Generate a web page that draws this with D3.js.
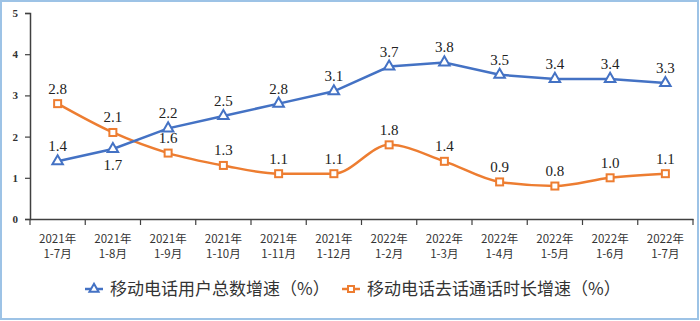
<!DOCTYPE html>
<html>
<head>
<meta charset="utf-8">
<script src="https://cdn.jsdelivr.net/npm/d3@7"></script>
<style>
  body { margin: 0; background: #fff; }
</style>
</head>
<body>
<div id="chart"></div>
<script>
// Data
const years = ['2021年', '2021年', '2021年', '2021年', '2021年', '2021年',
  '2022年', '2022年', '2022年', '2022年', '2022年', '2022年']
const months = ['1-7月', '1-8月', '1-9月', '1-10月', '1-11月', '1-12月',
  '1-2月', '1-3月', '1-4月', '1-5月', '1-6月', '1-7月']
const users = [1.4, 1.7, 2.2, 2.5, 2.8, 3.1, 3.7, 3.8, 3.5, 3.4, 3.4, 3.3]
const calls = [2.8, 2.1, 1.6, 1.3, 1.1, 1.1, 1.8, 1.4, 0.9, 0.8, 1.0, 1.1]
const yTicks = [0, 1, 2, 3, 4, 5]
const seriesNames = ['移动电话用户总数增速（%）', '移动电话去话通话时长增速（%）']

// label below the point for these indexes
const usersBelow = [1]

const width = 700, height = 321
const svg = d3.select('#chart').append('svg')
  .attr('width', width)
  .attr('height', height)

// frame
svg.append('rect')
  .attr('x', 1).attr('y', 1)
  .attr('width', width - 3).attr('height', height - 3)
  .attr('fill', '#fff')
  .attr('stroke', '#9dc3e6')
  .attr('stroke-width', 2)

const x = d3.scaleBand()
  .domain(d3.range(months.length))
  .range([30, 693])

const y = d3.scaleLinear()
  .domain([0, 5])
  .range([219, 13])

const axisColor = '#404040'

// y axis
const yAxis = svg.append('g')
  .attr('transform', 'translate(30,0)')
  .call(d3.axisLeft(y).tickValues(yTicks).tickSize(5).tickPadding(7).tickFormat(d3.format('d')))
yAxis.select('.domain').attr('stroke', axisColor).attr('stroke-width', 1.5)
yAxis.selectAll('.tick line').attr('stroke', axisColor).attr('stroke-width', 1.2)
yAxis.selectAll('.tick text')
  .attr('font-family', '"Liberation Serif", serif')
  .attr('font-weight', 'bold')
  .attr('font-size', 11)
  .attr('fill', '#333')

// x axis
const xAxis = svg.append('g')
  .attr('transform', 'translate(0,219)')
  .call(d3.axisBottom(x).tickSize(0).tickFormat(''))
xAxis.select('.domain').attr('stroke', axisColor).attr('stroke-width', 1.5)
xAxis.selectAll('.tick').remove()

// category separators
svg.append('g').selectAll('line')
  .data(d3.range(months.length + 1))
  .join('line')
  .attr('x1', i => 30 + i * x.step())
  .attr('x2', i => 30 + i * x.step())
  .attr('y1', 219)
  .attr('y2', 225)
  .attr('stroke', axisColor)
  .attr('stroke-width', 1.2)

const cx = i => x(i) + x.bandwidth() / 2

const xLabels = svg.append('g')
  .selectAll('text')
  .data(months)
  .join('text')
  .attr('x', (d, i) => cx(i))
  .attr('text-anchor', 'middle')
  .attr('font-family', '"Noto Sans CJK SC", sans-serif')
  .attr('font-size', 11.5)
  .attr('fill', '#333')
xLabels.append('tspan').attr('x', (d, i) => cx(i)).attr('y', 243).text((d, i) => years[i])
xLabels.append('tspan').attr('x', (d, i) => cx(i)).attr('y', 258).text(d => d)

const blue = '#4472c4', orange = '#ed7d31'

// lines
const lineUsers = d3.line()
  .x((d, i) => cx(i))
  .y(d => y(d))
const lineCalls = d3.line()
  .x((d, i) => cx(i))
  .y(d => y(d))
  .curve(d3.curveMonotoneX)

svg.append('path')
  .attr('d', lineCalls(calls))
  .attr('fill', 'none')
  .attr('stroke', orange)
  .attr('stroke-width', 2.5)

svg.append('path')
  .attr('d', lineUsers(users))
  .attr('fill', 'none')
  .attr('stroke', blue)
  .attr('stroke-width', 2.5)

// markers
const tri = d3.symbol().type(d3.symbolTriangle).size(48)
svg.append('g').selectAll('path')
  .data(users)
  .join('path')
  .attr('d', tri)
  .attr('transform', (d, i) => `translate(${cx(i)},${y(d)})`)
  .attr('fill', '#fff')
  .attr('stroke', blue)
  .attr('stroke-width', 2)

svg.append('g').selectAll('rect')
  .data(calls)
  .join('rect')
  .attr('x', (d, i) => cx(i) - 3.5)
  .attr('y', d => y(d) - 3.5)
  .attr('width', 7)
  .attr('height', 7)
  .attr('fill', '#fff')
  .attr('stroke', orange)
  .attr('stroke-width', 2)

// value labels
const labelFont = '"Liberation Serif", serif'
svg.append('g').selectAll('text')
  .data(users)
  .join('text')
  .attr('x', (d, i) => cx(i))
  .attr('y', (d, i) => usersBelow.includes(i) ? y(d) + 21 : y(d) - 10)
  .attr('text-anchor', 'middle')
  .attr('font-family', labelFont)
  .attr('font-size', 15)
  .attr('fill', '#222')
  .text(d => d.toFixed(1))

svg.append('g').selectAll('text')
  .data(calls)
  .join('text')
  .attr('x', (d, i) => cx(i))
  .attr('y', d => y(d) - 10)
  .attr('text-anchor', 'middle')
  .attr('font-family', labelFont)
  .attr('font-size', 15)
  .attr('fill', '#222')
  .text(d => d.toFixed(1))

// legend
const legend = svg.append('g')
const items = [
  { name: seriesNames[0], color: blue, x0: 85, kind: 'tri' },
  { name: seriesNames[1], color: orange, x0: 342, kind: 'sq' }
]
items.forEach(it => {
  const ly = 289
  legend.append('line')
    .attr('x1', it.x0).attr('x2', it.x0 + 18)
    .attr('y1', ly).attr('y2', ly)
    .attr('stroke', it.color).attr('stroke-width', 2.5)
  if (it.kind === 'tri') {
    legend.append('path')
      .attr('d', d3.symbol().type(d3.symbolTriangle).size(36)())
      .attr('transform', `translate(${it.x0 + 9},${ly})`)
      .attr('fill', '#fff').attr('stroke', it.color).attr('stroke-width', 2)
  } else {
    legend.append('rect')
      .attr('x', it.x0 + 6).attr('y', ly - 3)
      .attr('width', 6).attr('height', 6)
      .attr('fill', '#fff').attr('stroke', it.color).attr('stroke-width', 2)
  }
  legend.append('text')
    .attr('x', it.x0 + 25)
    .attr('y', ly + 6)
    .attr('font-family', '"Noto Sans CJK SC", sans-serif')
    .attr('font-size', 17)
    .attr('fill', '#333')
    .text(it.name)
})
</script>
</body>
</html>
